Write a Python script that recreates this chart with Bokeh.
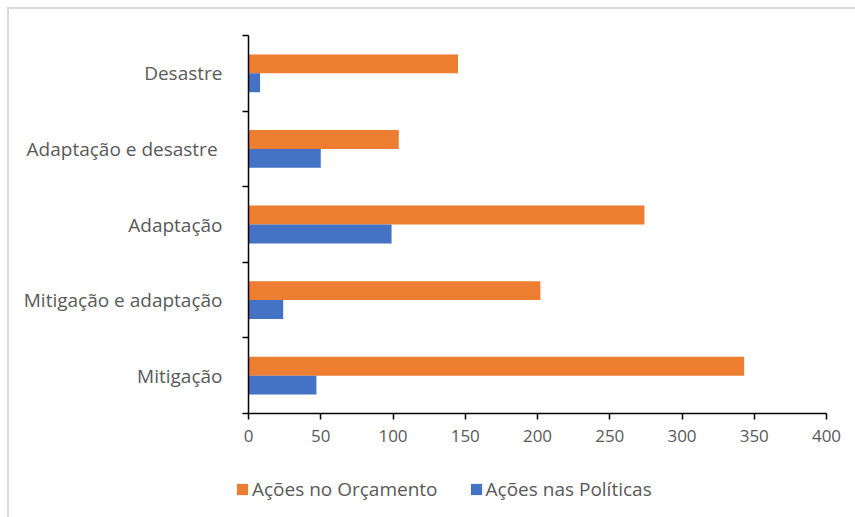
from bokeh.plotting import figure
from bokeh.layouts import column, row
from bokeh.models import Range1d, FixedTicker, Legend, LegendItem, ColumnDataSource
from bokeh.transform import dodge
from bokeh.embed import file_html
from bokeh.resources import INLINE

categories = ["Mitigação", "Mitigação e adaptação", "Adaptação", "Adaptação e desastre ", "Desastre"]
acoes_orcamento = [343, 202, 274, 104, 145]
acoes_politicas = [47, 24, 99, 50, 8]
series_names = ["Ações no Orçamento", "Ações nas Políticas"]
x_ticks = [0, 50, 100, 150, 200, 250, 300, 350, 400]

ORANGE = "#ED7D31"
BLUE = "#4472C4"
TEXT = "#595959"
FONT = "Open Sans"

pos = [i + 0.5 for i in range(len(categories))]
src = ColumnDataSource(dict(pos=pos, orc=acoes_orcamento, pol=acoes_politicas))

p = figure(width=846, height=444, output_backend="svg", toolbar_location=None,
           x_range=Range1d(0, 400), y_range=Range1d(0, len(categories)),
           min_border_left=239, min_border_right=29, min_border_top=26, min_border_bottom=40)

p.hbar(y=dodge("pos", 0.125, range=p.y_range), right="orc", left=0, height=0.25,
       source=src, fill_color=ORANGE, line_color=None)
p.hbar(y=dodge("pos", -0.125, range=p.y_range), right="pol", left=0, height=0.25,
       source=src, fill_color=BLUE, line_color=None)

p.xgrid.visible = False
p.ygrid.visible = False
p.outline_line_color = None

xa = p.xaxis[0]
xa.ticker = FixedTicker(ticks=x_ticks, minor_ticks=[])
xa.axis_line_color = "black"
xa.axis_line_width = 1.5
xa.major_tick_line_color = "black"
xa.major_tick_line_width = 1.5
xa.major_tick_in = 0
xa.major_tick_out = 6
xa.minor_tick_line_color = None
xa.major_label_text_font = FONT
xa.major_label_text_font_size = "17px"
xa.major_label_text_color = TEXT
xa.major_label_standoff = 10

ya = p.yaxis[0]
ya.ticker = FixedTicker(ticks=pos, minor_ticks=list(range(len(categories) + 1)))
ya.major_label_overrides = {pp: c for pp, c in zip(pos, categories)}
ya.axis_line_color = "black"
ya.axis_line_width = 1.5
ya.major_tick_line_color = None
ya.major_tick_in = 0
ya.major_tick_out = 0
ya.minor_tick_line_color = "black"
ya.minor_tick_line_width = 1.5
ya.minor_tick_in = 0
ya.minor_tick_out = 6
ya.major_label_text_font = FONT
ya.major_label_text_font_size = "19px"
ya.major_label_text_color = TEXT
ya.major_label_standoff = 20

# legend strip (hidden copies of the two series provide the legend swatches)
lp = figure(width=846, height=64, output_backend="svg", toolbar_location=None,
            x_range=Range1d(0, 400), y_range=Range1d(0, len(categories)),
            x_axis_location=None, y_axis_location=None,
            min_border_left=0, min_border_right=0, min_border_top=0, min_border_bottom=0)
lp.grid.visible = False
lp.outline_line_color = None
l1 = lp.hbar(y="pos", right="orc", height=0.25, source=src, fill_color=ORANGE, line_color=None, visible=False)
l2 = lp.hbar(y="pos", right="pol", height=0.25, source=src, fill_color=BLUE, line_color=None, visible=False)

legend = Legend(items=[LegendItem(label=series_names[0], renderers=[l1]),
                       LegendItem(label=series_names[1], renderers=[l2])],
                orientation="horizontal", location=(226, 15),
                glyph_width=14, glyph_height=14, label_standoff=3, spacing=31,
                padding=0, margin=0, border_line_color=None,
                background_fill_alpha=0, inactive_fill_alpha=0,
                label_text_font=FONT, label_text_font_size="19px",
                label_text_color=TEXT)
lp.add_layout(legend, "center")

layout = column(p, row(lp))
layout.styles = {"margin-left": "7px", "margin-top": "7px",
                 "border-left": "2px solid #d9d9d9", "border-top": "2px solid #d9d9d9"}

open("out.html", "w").write(file_html(layout, INLINE))
